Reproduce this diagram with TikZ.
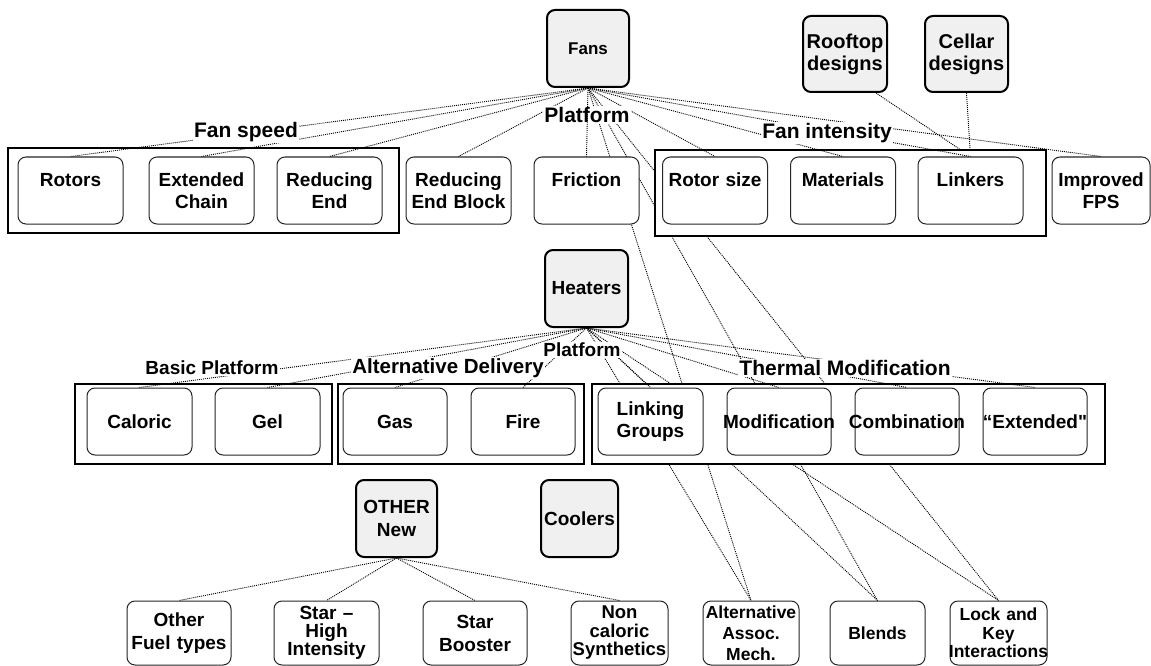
\documentclass[tikz,border=0pt]{standalone}
\usepackage{fontspec}
\setmainfont{Liberation Sans}
\usepackage{xcolor}
\usepackage{tikz}
\usetikzlibrary{calc,positioning}
\pgfdeclarelayer{back}
\pgfdeclarelayer{frames}
\pgfdeclarelayer{ties}
\pgfsetlayers{back,frames,ties,main}
\definecolor{boxgray}{RGB}{240,240,240}
\tikzset{
  parentbox/.style={draw=black,line width=2pt,rounded corners=8pt,fill=boxgray,align=center,inner sep=0pt,font=\fontsize{19}{22}\selectfont\bfseries},
  itembox/.style={draw=black!85,line width=1pt,rounded corners=8pt,fill=white,align=center,inner sep=0pt,text width=105pt,minimum height=67pt,font=\fontsize{19}{22}\selectfont\bfseries},
  lowbox/.style={itembox,minimum height=64pt},
  groupframe/.style={draw=black,line width=2pt,fill=white},
  grouptag/.style={fill=white,inner sep=1pt,font=\fontsize{19}{22}\selectfont\bfseries},
  dotline/.style={line width=0.9pt,dash pattern=on 1pt off 1pt}
}
\newcommand{\wide}[1]{\makebox[\hsize]{#1}}

\begin{document}
\begin{tikzpicture}[x=1pt,y=-1pt]
\useasboundingbox (0,0) rectangle (1151,666);
% fans row
\node[parentbox,minimum width=82pt,minimum height=77pt,font=\fontsize{17}{20}\selectfont\bfseries] (fans) at (588,48.5) {Fans};
\node[parentbox,minimum width=84pt,minimum height=76pt,font=\fontsize{20}{22}\selectfont\bfseries] (rooftop) at (845,54) {Rooftop\\designs};
\node[parentbox,minimum width=83pt,minimum height=76pt,font=\fontsize{20}{22}\selectfont\bfseries] (cellar) at (966.5,54) {Cellar\\designs};
\node[itembox] (rotors) at (70.5,190.5) {Rotors\\\mbox{}};
\node[itembox] (extchain) at (201.5,190.5) {Extended\\Chain};
\node[itembox] (redend) at (329.5,190.5) {Reducing\\End};
\node[itembox] (redblock) at (458.5,190.5) {Reducing\\End Block};
\node[itembox] (friction) at (586.5,190.5) {Friction\\\mbox{}};
\node[itembox] (rotorsize) at (715,190.5) {Rotor size\\\mbox{}};
\node[itembox] (materials) at (843,190.5) {Materials\\\mbox{}};
\node[itembox] (linkers) at (970.5,190.5) {Linkers\\\mbox{}};
\node[itembox,text width=98pt] (fps) at (1101,190.5) {Improved\\FPS};
% heaters row
\node[parentbox,minimum width=83pt,minimum height=77pt] (heaters) at (586.5,288.5) {Heaters};
\node[itembox] (caloric) at (139.5,421.5) {Caloric};
\node[itembox] (gel) at (267.5,421.5) {Gel};
\node[itembox,text width=104pt] (gas) at (395,421.5) {Gas};
\node[itembox,text width=104pt] (fire) at (523,421.5) {Fire};
\node[itembox] (linking) at (650.5,421.5) {Linking\\Groups};
\node[itembox,text width=104pt] (modif) at (779,421.5) {\wide{Modification}};
\node[itembox,text width=104pt] (combi) at (907,421.5) {\wide{Combination}};
\node[itembox,text width=104pt] (extended) at (1035,421.5) {\wide{“Extended\textquotedbl}};
% bottom row
\node[parentbox,minimum width=81pt,minimum height=77pt,font=\fontsize{19}{23}\selectfont\bfseries] (other) at (396.5,518.5) {OTHER\\New};
\node[parentbox,minimum width=77pt,minimum height=77pt] (coolers) at (579.5,518.5) {Coolers};
\node[lowbox,text width=104pt,font=\fontsize{19}{23}\selectfont\bfseries] (fuel) at (179,633) {Other\\Fuel types};
\node[lowbox,font=\fontsize{19}{17.5}\selectfont\bfseries] (starhigh) at (326.5,633) {Star --\\High\\Intensity};
\node[lowbox,text width=104pt,font=\fontsize{19}{23}\selectfont\bfseries] (starboost) at (475,633) {Star\\Booster};
\node[lowbox,text width=97pt,font=\fontsize{18.5}{18.5}\selectfont\bfseries] (noncal) at (619.5,633) {Non\\caloric\\Synthetics};
\node[lowbox,text width=96pt,font=\fontsize{17.5}{21}\selectfont\bfseries] (altassoc) at (751,633) {Alternative\\Assoc.\\Mech.};
\node[lowbox,text width=95pt,font=\fontsize{17.5}{21}\selectfont\bfseries] (blends) at (877.5,633) {Blends};
\node[lowbox,text width=97pt,font=\fontsize{17.5}{18.5}\selectfont\bfseries] (lockkey) at (998.5,633) {Lock and\\Key\\\wide{Interactions}};
% group labels
\node[grouptag,font=\fontsize{21}{24}\selectfont\bfseries] (fanspeed) at (246,132) {Fan speed};
\node[grouptag,font=\fontsize{21}{24}\selectfont\bfseries] (platformtop) at (587,115) {Platform};
\node[grouptag,font=\fontsize{21}{24}\selectfont\bfseries] (fanint) at (827,133) {Fan intensity};
\node[grouptag] (basicplat) at (212,368) {Basic Platform};
\node[grouptag,font=\fontsize{20.5}{22}\selectfont\bfseries] (altdel) at (448,368) {Alternative Delivery};
\node[grouptag] (platformmid) at (582,350) {Platform};
\node[grouptag,font=\fontsize{21}{22}\selectfont\bfseries] (thermal) at (845,368) {Thermal Modification};
\draw[dotline] (fans.south) -- (friction.north);
% group frames
\begin{pgfonlayer}{frames}
\draw[groupframe] (8,148) rectangle (399,233);
\draw[groupframe] (655,150) rectangle (1046,236);
\draw[groupframe] (75,384) rectangle (332,464);
\draw[groupframe] (338,384) rectangle (584,464);
\draw[groupframe] (592,384) rectangle (1105,464);
\end{pgfonlayer}
% links
\begin{pgfonlayer}{ties}
\foreach \n in {rotors,extchain,redend,redblock,rotorsize,materials,linkers,fps}
  \draw[dotline] (fans.south) -- (\n.north);
\foreach \n in {caloric,gel,gas,fire,linking,modif,combi,extended}
  \draw[dotline] (heaters.south) -- (\n.north);
\foreach \n in {fuel,starhigh,starboost,noncal}
  \draw[dotline] (other.south) -- (\n.north);
\end{pgfonlayer}
% platform links run behind everything
\begin{pgfonlayer}{back}
\fill[white] (0,0) rectangle (1151,666);
\foreach \n in {altassoc,blends,lockkey}{
  \draw[dotline] (fans.south) -- (\n.north);
  \draw[dotline] (heaters.south) -- (\n.north);
}
\draw[dotline] ([xshift=-12pt]rooftop.south east) -- (linkers.north);
\draw[dotline] (cellar.south) -- (linkers.north);
\end{pgfonlayer}
\end{tikzpicture}
\end{document}
